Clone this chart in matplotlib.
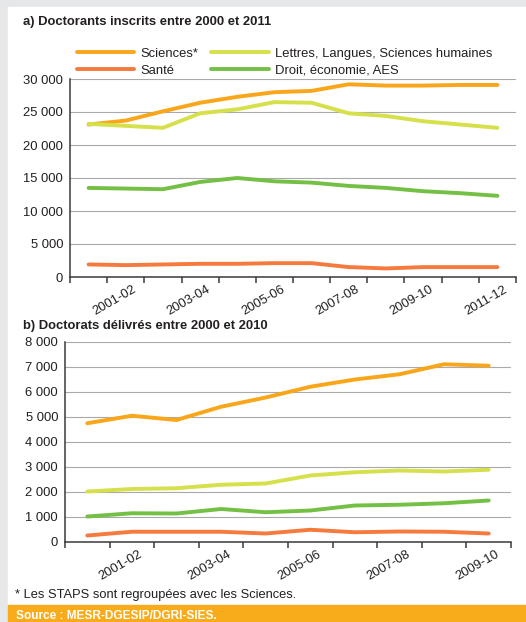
import numpy as np
import matplotlib.pyplot as plt
from matplotlib.patches import Rectangle
from matplotlib.transforms import ScaledTranslation

plt.rcParams['font.family'] = ['Liberation Sans', 'DejaVu Sans']

# données
cats_a = ['2000-01', '2001-02', '2002-03', '2003-04', '2004-05', '2005-06',
          '2006-07', '2007-08', '2008-09', '2009-10', '2010-11', '2011-12']
sciences_a = [23100, 23700, 25100, 26400, 27300, 28000, 28200, 29200, 29000, 29000, 29100, 29100]
lettres_a = [23200, 22900, 22600, 24800, 25400, 26500, 26400, 24800, 24400, 23600, 23100, 22600]
droit_a = [13500, 13400, 13300, 14400, 15000, 14500, 14300, 13800, 13500, 13000, 12700, 12300]
sante_a = [1900, 1800, 1900, 2000, 2000, 2100, 2100, 1500, 1300, 1500, 1500, 1500]

cats_b = ['2000-01', '2001-02', '2002-03', '2003-04', '2004-05', '2005-06',
          '2006-07', '2007-08', '2008-09', '2009-10']
sciences_b = [4730, 5030, 4860, 5390, 5760, 6190, 6480, 6690, 7090, 7030]
lettres_b = [2000, 2100, 2130, 2270, 2320, 2640, 2770, 2840, 2800, 2870]
droit_b = [1000, 1130, 1120, 1300, 1170, 1240, 1440, 1470, 1530, 1640]
sante_b = [240, 390, 390, 390, 320, 470, 370, 400, 390, 320]

noms = ['Sciences*', 'Santé', 'Lettres, Langues, Sciences humaines', 'Droit, économie, AES']
couleurs = ['#faa61a', '#f47a3d', '#d5e04b', '#74c045']

W, H = 526, 622
TXT = '#231f20'
FS = 9.4


def fx(x):
    return x / W


def fy(y):
    return 1 - y / H


fig = plt.figure(figsize=(W / 100, H / 100), dpi=100, facecolor='#e6e7e8')
fig.patches.append(Rectangle((fx(8), fy(605)), 1 - fx(8), fy(7) - fy(605),
                             transform=fig.transFigure, color='white', zorder=-10))
fig.patches.append(Rectangle((fx(8), 0), 1 - fx(8), fy(605),
                             transform=fig.transFigure, color='#f8ac1c', zorder=-10))


def tracer(ax, cats, series, ymax, ystep):
    n = len(cats)
    x = np.arange(n)
    lignes = []
    for vals, nom, c in zip(series, noms, couleurs):
        l, = ax.plot(x, vals, color=c, lw=2.8, label=nom, solid_capstyle='round',
                     solid_joinstyle='round')
        lignes.append(l)
    ax.set_xlim(-0.5, n - 0.5)
    ax.set_ylim(0, ymax)
    yt = np.arange(0, ymax + 1, ystep)
    ax.set_yticks(yt, [f'{v:,}'.replace(',', ' ') for v in yt])
    ax.set_xticks(np.arange(1, n, 2), [cats[i] for i in range(1, n, 2)])
    ax.set_xticks(np.arange(-0.5, n), minor=True)
    ax.tick_params(axis='x', which='major', length=0, pad=4.7, labelsize=FS,
                   labelcolor=TXT, labelrotation=30)
    ax.tick_params(axis='x', which='minor', length=4, width=1.1, color='#3a3a3a')
    ax.tick_params(axis='y', length=0, pad=5, labelsize=FS, labelcolor=TXT)
    for lab in ax.get_xticklabels():
        lab.set_ha('right')
        lab.set_va('top')
        lab.set_rotation_mode('anchor')
        lab.set_transform(lab.get_transform() + ScaledTranslation(0.065, 0, fig.dpi_scale_trans))
    ax.yaxis.grid(True, color='#a7a9ac', lw=0.8)
    ax.set_axisbelow(True)
    for s in ['top', 'right']:
        ax.spines[s].set_visible(False)
    for s in ['left', 'bottom']:
        ax.spines[s].set_color('#3a3a3a')
        ax.spines[s].set_linewidth(1.1)
    ax.set_facecolor('none')
    return lignes


ax_a = fig.add_axes([fx(70), fy(277), (516 - 70) / W, (277 - 79) / H])
lignes = tracer(ax_a, cats_a, [sciences_a, sante_a, lettres_a, droit_a], 30000, 5000)
ax_a.legend(handles=lignes, ncol=2, loc='upper left', bbox_to_anchor=(fx(77), fy(47.5)),
            bbox_transform=fig.transFigure, frameon=False, fontsize=FS,
            handlelength=4.4, handletextpad=0.45, columnspacing=1.0, labelspacing=0.37,
            borderpad=0, borderaxespad=0, labelcolor=TXT)

ax_b = fig.add_axes([fx(65), fy(541.5), (511 - 65) / W, (541.5 - 341.5) / H])
tracer(ax_b, cats_b, [sciences_b, sante_b, lettres_b, droit_b], 8000, 1000)

fig.text(fx(23), fy(25), 'a) Doctorants inscrits entre 2000 et 2011', fontsize=9.4,
         fontweight='bold', color=TXT, va='baseline')
fig.text(fx(23), fy(329.5), 'b) Doctorats délivrés entre 2000 et 2010', fontsize=9.4,
         fontweight='bold', color=TXT, va='baseline')
fig.text(fx(15), fy(598), '* Les STAPS sont regroupées avec les Sciences.', fontsize=9.3,
         color=TXT, va='baseline')
fig.text(fx(16), fy(619), 'Source : MESR-DGESIP/DGRI-SIES.', fontsize=8.6,
         fontweight='bold', color='white', va='baseline')

fig.savefig('out.png', dpi=100, facecolor=fig.get_facecolor())
